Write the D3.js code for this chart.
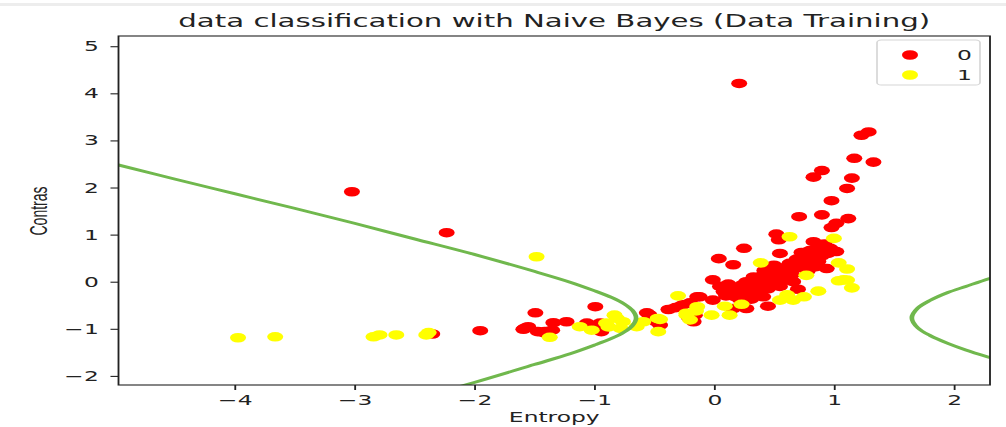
<!DOCTYPE html>
<html>
<head>
<meta charset="utf-8">
<script src="https://cdnjs.cloudflare.com/ajax/libs/d3/7.8.5/d3.min.js"></script>
<style>
  body { margin: 0; background: #fff; }
  svg { display: block; }
</style>
</head>
<body>
<svg id="chart" width="1006" height="427"></svg>
<script>
// ---- data ----
var class0X = [0.21, 1.23, 1.29, 1.17, 1.33, 0.90, 0.83, 1.15, 1.11, 0.98, 0.71, 0.90, 1.12, 1.02, 0.98, 0.52, 0.54, 0.83, 0.25, 0.55, 0.04, 0.16,
  0.97, 1.02, 0.75, 0.82, 0.63, 0.69, 0.87, 0.94, 0.55, 0.50, 0.41, 0.61, -0.01, 0.27, 0.36, 0.50, 0.66, 0.16, 0.25, 0.08, 0.70, -0.12, -0.01,
  0.41, 0.22, 0.31, -0.26, 0.16, 0.27, 0.45, -0.16,
  0.30, 0.35, 0.40, 0.45, 0.55, 0.60, 0.65, 0.70, 0.75, 0.80, 0.85, 0.78, 0.90, 0.95, 0.72, 0.60, 0.20, 0.30, 0.10, 0.05, 0.45, 0.55, 0.65,
  0.88, 0.92, 0.85, 0.38, 0.12, 0.50, 0.33, 0.47, 0.58, 0.68, 0.24, 0.18, 0.42, 0.62, 0.80, 0.73,
  -0.99, -1.49, -0.56, -0.38, -0.28, -1.58, -1.34, -1.23, -1.35, -1.41, -0.95, -1.06, -0.94, -0.48, -0.45, -0.21, -0.17, -0.14,
  -3.02, -2.23, -1.95, -1.59, -1.55, -1.47, -1.42, -2.35, -0.54, -0.32, -0.20];
var class0Y = [4.21, 3.11, 3.18, 2.62, 2.54, 2.36, 2.22, 2.20, 1.98, 1.72, 1.38, 1.42, 1.34, 1.24, 1.15, 1.01, 0.89, 0.85, 0.71, 0.60, 0.49, 0.36,
  0.71, 0.64, 0.60, 0.57, 0.39, 0.48, 0.43, 0.28, 0.29, 0.21, 0.14, 0.11, 0.04, 0.00, -0.03, 0.00, 0.00, -0.14, -0.18, -0.21, -0.16, -0.32, -0.39,
  -0.32, -0.39, -0.37, -0.49, -0.57, -0.57, -0.52, -0.71,
  -0.10, 0.05, -0.05, 0.08, 0.12, 0.20, 0.25, 0.30, 0.35, 0.40, 0.50, 0.22, 0.55, 0.60, 0.50, 0.05, -0.25, -0.25, -0.30, -0.10, -0.15, -0.10, 0.15,
  0.70, 0.80, 0.32, -0.20, -0.05, 0.35, 0.10, -0.02, 0.28, 0.42, -0.06, -0.32, 0.24, 0.30, 0.66, 0.62,
  -0.53, -0.66, -0.66, -0.59, -0.52, -0.99, -0.87, -0.85, -1.03, -1.06, -0.88, -0.88, -1.06, -0.85, -0.92, -0.76, -0.85, -0.32,
  1.91, 1.04, -1.04, -1.01, -0.955, -1.06, -1.08, -1.11, -0.70, -0.55, -0.45];

var class1X = [0.63, 1.00, 0.39, 1.04, 1.11, 0.77, 1.04, 1.11, 1.15, 0.87, -0.30, 0.61, 0.75, 0.55, 0.66, -0.14, -0.23, 0.09, 0.23, -0.02, 0.13, 1.08,
  -1.48, -0.83, -0.47, -0.23, -0.20, -1.37, -1.12, -1.02, -0.90, -0.81, -0.88, -0.76, -0.78, -0.645, -0.59, -0.45, -0.465, -0.15,
  -3.97, -3.66, -2.84, -2.79, -2.65, -2.38, -2.40];
var class1Y = [0.955, 0.92, 0.40, 0.40, 0.27, 0.135, 0.02, 0.035, -0.13, -0.20, -0.30, -0.28, -0.32, -0.39, -0.39, -0.53, -0.67, -0.52, -0.48, -0.71, -0.71, 0.04,
  0.53, -0.71, -0.78, -0.71, -0.81, -1.18, -0.955, -1.03, -0.88, -0.78, -0.96, -0.85, -0.99, -0.955, -0.85, -0.80, -1.06, -0.62,
  -1.19, -1.17, -1.17, -1.13, -1.13, -1.08, -1.13];

// decision boundary, two branches
var boundaryLeftX = [-5.2, -4.97, -4.5, -4, -3.5, -3, -2.5, -2, -1.5, -1.2, -1.0, -0.85, -0.75, -0.68, -0.65, -0.68, -0.75, -0.85, -1.0, -1.2, -1.5, -2.0, -2.4];
var boundaryLeftY = [2.62, 2.48, 2.18, 1.87, 1.56, 1.24, 0.91, 0.58, 0.22, -0.01, -0.19, -0.34, -0.47, -0.61, -0.77, -0.93, -1.07, -1.20, -1.35, -1.53, -1.76, -2.14, -2.42];
var boundaryRightX = [2.5, 2.3, 2.1, 1.95, 1.8, 1.7, 1.65, 1.7, 1.8, 1.95, 2.1, 2.3, 2.5];
var boundaryRightY = [0.22, 0.07, -0.10, -0.23, -0.40, -0.56, -0.77, -0.98, -1.14, -1.31, -1.45, -1.61, -1.76];

var xTicks = [-4, -3, -2, -1, 0, 1, 2];
var xTickLabels = ["\u22124", "\u22123", "\u22122", "\u22121", "0", "1", "2"];
var yTicks = [-2, -1, 0, 1, 2, 3, 4, 5];
var yTickLabels = ["\u22122", "\u22121", "0", "1", "2", "3", "4", "5"];
var classNames = ["0", "1"];
var classColors = ["#ff0000", "#ffff00"];

// ---- layout ----
var W = 1006, H = 427;
var SX = 1.67;              // the reference is stretched sideways, draw narrow then scale
var L = 118.5, R = 990, T = 36, B = 385;   // in page pixels

var svg = d3.select("#chart");

svg.append("rect")
    .attr("x", 0).attr("y", 3).attr("width", W).attr("height", 3)
    .attr("fill", "#ededed");

var vis = svg.append("g").attr("transform", "scale(" + SX + ",1)");

var xScale = d3.scaleLinear().domain([-4.967, 2.302]).range([L / SX, R / SX]);
var yScale = d3.scaleLinear().domain([-2.193, 5.217]).range([B, T]);

vis.append("clipPath").attr("id", "plotclip")
  .append("rect")
    .attr("x", L / SX).attr("y", T)
    .attr("width", (R - L) / SX).attr("height", B - T);

var plot = vis.append("g").attr("clip-path", "url(#plotclip)");

// scatter: class 0 first, class 1 on top
function drawClass(xs, ys, color) {
  var pts = [];
  for (var i = 0; i < xs.length; i++) pts.push([xs[i], ys[i]]);
  plot.append("g").selectAll("circle")
      .data(pts)
    .enter().append("circle")
      .attr("cx", function(p) { return xScale(p[0]); })
      .attr("cy", function(p) { return yScale(p[1]); })
      .attr("r", 4.8)
      .attr("fill", color);
}
drawClass(class0X, class0Y, classColors[0]);
drawClass(class1X, class1Y, classColors[1]);

var lineGen = d3.line()
    .x(function(p) { return xScale(p[0]); })
    .y(function(p) { return yScale(p[1]); })
    .curve(d3.curveCatmullRom);

[[boundaryLeftX, boundaryLeftY], [boundaryRightX, boundaryRightY]].forEach(function(b) {
  var ld = [];
  for (var i = 0; i < b[0].length; i++) ld.push([b[0][i], b[1][i]]);
  plot.append("path")
      .attr("d", lineGen(ld))
      .attr("fill", "none")
      .attr("stroke", "#70b84d")
      .attr("stroke-width", 2.8);
});

// axes
var xAxis = d3.axisBottom(xScale)
    .tickValues(xTicks)
    .tickSize(5)
    .tickPadding(5)
    .tickFormat(function(d, i) { return xTickLabels[i]; });
var yAxis = d3.axisLeft(yScale)
    .tickValues(yTicks)
    .tickSize(4.8)
    .tickPadding(7)
    .tickFormat(function(d, i) { return yTickLabels[i]; });

var gx = vis.append("g")
    .attr("transform", "translate(0," + B + ")")
    .call(xAxis);
var gy = vis.append("g")
    .attr("transform", "translate(" + (L / SX) + ",0)")
    .call(yAxis);

[gx, gy].forEach(function(g) {
  g.select(".domain").remove();
  g.selectAll("line").attr("stroke", "#222").attr("stroke-width", 1.1);
  g.selectAll("text")
      .attr("fill", "#222")
      .style("font-family", "'DejaVu Sans', sans-serif")
      .style("font-size", "14px");
});

// frame
vis.append("rect")
    .attr("x", L / SX).attr("y", T)
    .attr("width", (R - L) / SX).attr("height", B - T)
    .attr("fill", "none")
    .attr("stroke", "#222")
    .attr("stroke-width", 1.1);

// title and labels
var midX = (L + R) / 2 / SX;
vis.append("text")
    .attr("x", midX).attr("y", 27)
    .attr("text-anchor", "middle")
    .attr("fill", "#222")
    .style("font-family", "'DejaVu Sans', sans-serif")
    .style("font-size", "17.5px")
    .text("data classification with Naive Bayes (Data Training)");

vis.append("text")
    .attr("x", midX).attr("y", 422)
    .attr("text-anchor", "middle")
    .attr("fill", "#222")
    .style("font-family", "'DejaVu Sans', sans-serif")
    .style("font-size", "14px")
    .text("Entropy");

vis.append("text")
    .attr("transform", "translate(" + (47 / SX) + "," + 211 + ") rotate(-90)")
    .attr("text-anchor", "middle")
    .attr("fill", "#222")
    .style("font-family", "'Liberation Sans', sans-serif")
    .style("font-size", "14px")
    .text("Contras");

// legend
var lg = vis.append("g");
lg.append("rect")
    .attr("x", 877 / SX).attr("y", 40)
    .attr("width", (980 - 877) / SX).attr("height", 45)
    .attr("rx", 2.5)
    .attr("fill", "#fff")
    .attr("fill-opacity", 0.8)
    .attr("stroke", "#d6d6d6")
    .attr("stroke-width", 1);

classNames.forEach(function(name, i) {
  var yy = 55 + i * 20;
  lg.append("circle")
      .attr("cx", 910 / SX).attr("cy", yy)
      .attr("r", 4.8)
      .attr("fill", classColors[i]);
  lg.append("text")
      .attr("x", 957 / SX).attr("y", yy + 5)
      .attr("fill", "#222")
      .style("font-family", "'DejaVu Sans', sans-serif")
      .style("font-size", "14px")
      .text(name);
});
</script>
</body>
</html>
